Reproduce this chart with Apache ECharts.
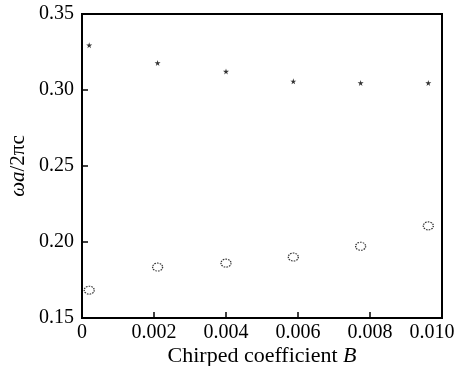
<!DOCTYPE html>
<html>
<head>
<meta charset="utf-8">
<script src="https://cdn.jsdelivr.net/npm/echarts@6/dist/echarts.min.js"></script>
<style>
  html, body { margin: 0; padding: 0; background: #fff; }
  #chart { width: 458px; height: 366px; }
</style>
</head>
<body>
<div id="chart"></div>
<script>
// chirped coefficient B (x) and normalized frequency (y)
var bValues = [0.0002, 0.0021, 0.0040, 0.00587, 0.00774, 0.00962];
var upperBand = [0.3295, 0.3178, 0.3122, 0.3057, 0.3046, 0.3046];
var lowerBand = [0.1683, 0.1835, 0.1861, 0.1901, 0.1972, 0.2106];
var xTicks = [0, 0.002, 0.004, 0.006, 0.008, 0.010];
var yTicks = [0.15, 0.20, 0.25, 0.30, 0.35];

var font = '"Liberation Serif", "DejaVu Serif", serif';

function pairs(xs, ys) {
  return xs.map(function (x, i) { return [x, ys[i]]; });
}

var starPath = 'path://M50,0 L61,35 L98,35 L68,57 L79,91 L50,70 L21,91 L32,57 L2,35 L39,35 Z';

var chart = echarts.init(document.getElementById('chart'), null, { renderer: 'canvas' });

var option = {
  animation: false,
  backgroundColor: '#fff',
  grid: {
    left: 82, right: 16, top: 14, bottom: 48,
    containLabel: false, outerBoundsMode: 'none',
    show: true, borderColor: '#000', borderWidth: 2, backgroundColor: 'transparent'
  },
  xAxis: {
    type: 'value',
    min: 0, max: 0.010, interval: 0.002,
    name: 'Chirped coefficient {i|B}',
    nameLocation: 'middle',
    nameGap: 27,
    nameMoveOverlap: false,
    nameTextStyle: {
      fontFamily: font, fontSize: 22, color: '#000',
      rich: { i: { fontFamily: font, fontSize: 22, fontStyle: 'italic', color: '#000' } }
    },
    axisLine: { show: true, lineStyle: { color: '#000', width: 2 } },
    axisTick: { show: true, inside: true, length: 6, lineStyle: { color: '#000', width: 1.5 } },
    splitLine: { show: false },
    axisLabel: {
      fontFamily: font, fontSize: 20, color: '#000', margin: 5,
      rich: { last: { fontFamily: font, fontSize: 20, color: '#000', padding: [0, 20, 0, 0] } },
      formatter: function (v) {
        var idx = xTicks.findIndex(function (t) { return Math.abs(t - v) < 1e-9; });
        if (idx < 0) return '';
        if (v === 0) return '0';
        if (idx === xTicks.length - 1) return '{last|' + v.toFixed(3) + '}';
        return v.toFixed(3);
      }
    }
  },
  yAxis: {
    type: 'value',
    min: 0.15, max: 0.35, interval: 0.05,
    name: '{i|ωa}/2πc',
    nameLocation: 'middle',
    nameGap: 53,
    nameMoveOverlap: false,
    nameRotate: 90,
    nameTextStyle: {
      fontFamily: font, fontSize: 21, color: '#000',
      rich: { i: { fontFamily: font, fontSize: 21, fontStyle: 'italic', color: '#000' } }
    },
    axisLine: { show: true, lineStyle: { color: '#000', width: 2 } },
    axisTick: { show: true, inside: true, length: 6, lineStyle: { color: '#000', width: 1.5 } },
    splitLine: { show: false },
    axisLabel: {
      fontFamily: font, fontSize: 20, color: '#000', margin: 8,
      padding: [3, 0, 0, 0],
      formatter: function (v) {
        var idx = yTicks.findIndex(function (t) { return Math.abs(t - v) < 1e-9; });
        return idx < 0 ? '' : v.toFixed(2);
      }
    }
  },
  series: [
    {
      type: 'scatter',
      data: pairs(bValues, upperBand),
      symbol: starPath,
      symbolSize: 6,
      itemStyle: { color: '#000' }
    },
    {
      type: 'scatter',
      data: pairs(bValues, lowerBand),
      symbol: 'circle',
      symbolSize: [10, 8],
      itemStyle: { color: '#fff', borderColor: '#000', borderWidth: 1.2, borderType: [1.5, 1] }
    }
  ]
};

chart.setOption(option);
</script>
</body>
</html>
